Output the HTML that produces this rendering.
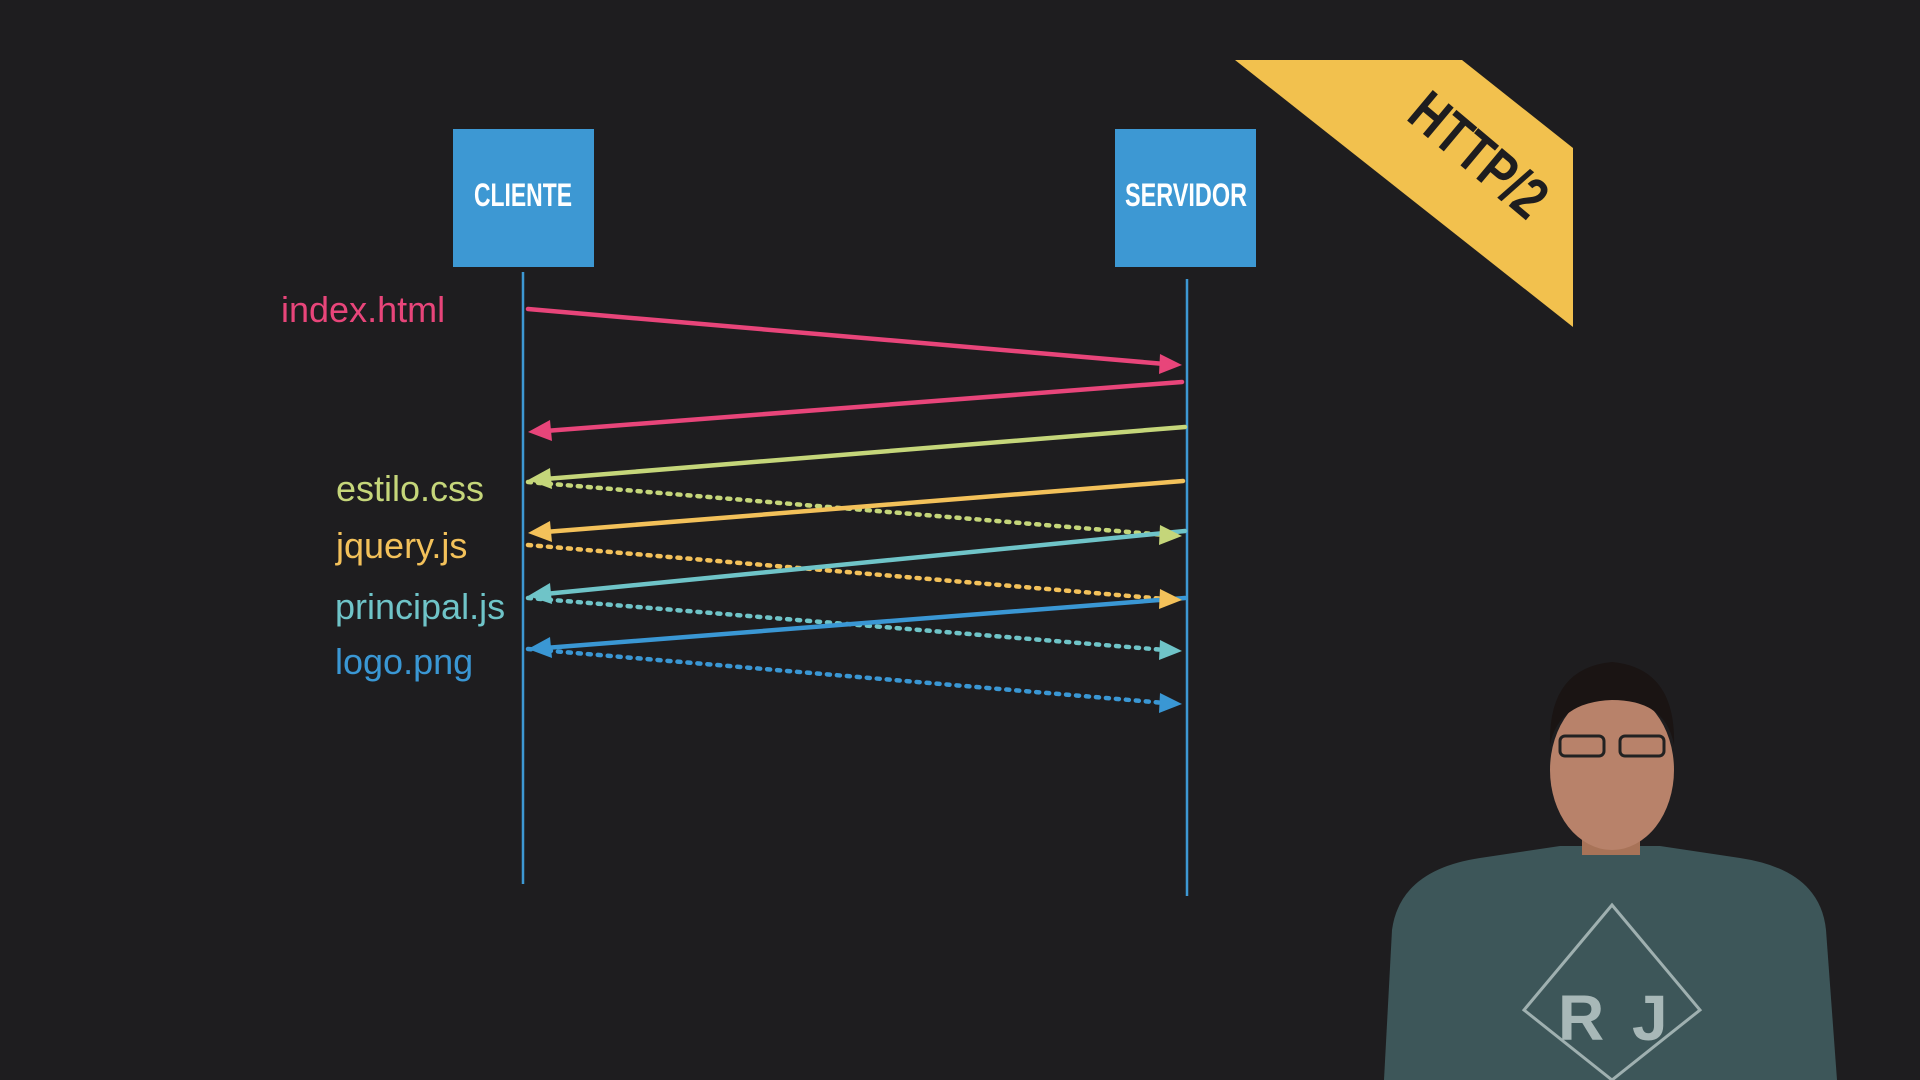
<!DOCTYPE html>
<html><head><meta charset="utf-8"><style>
html,body{margin:0;padding:0;background:#1e1d1f;width:1920px;height:1080px;overflow:hidden}
svg{display:block}
</style></head><body>
<svg width="1920" height="1080" viewBox="0 0 1920 1080" xmlns="http://www.w3.org/2000/svg">
<rect width="1920" height="1080" fill="#1e1d1f"/>
<!-- banner -->
<polygon points="1235,60 1462,60 1573,148 1573,327" fill="#f2c14e"/>
<text x="0" y="0" transform="translate(1466,170) rotate(40)" font-family="Liberation Sans, sans-serif" font-weight="bold" font-size="58" fill="#1e1d1f" text-anchor="middle" textLength="160" lengthAdjust="spacingAndGlyphs">HTTP/2</text>
<!-- boxes -->
<rect x="453" y="129" width="141" height="138" fill="#3d98d3"/>
<rect x="1115" y="129" width="141" height="138" fill="#3d98d3"/>
<text x="523" y="206" font-family="Liberation Sans, sans-serif" font-weight="bold" font-size="32" fill="#fff" text-anchor="middle" textLength="98" lengthAdjust="spacingAndGlyphs">CLIENTE</text>
<text x="1186" y="206" font-family="Liberation Sans, sans-serif" font-weight="bold" font-size="32" fill="#fff" text-anchor="middle" textLength="122" lengthAdjust="spacingAndGlyphs">SERVIDOR</text>
<!-- lifelines -->
<line x1="523" y1="272" x2="523" y2="884" stroke="#3d98d3" stroke-width="2.5"/>
<line x1="1187" y1="279" x2="1187" y2="896" stroke="#3d98d3" stroke-width="2.5"/>
<!-- labels -->
<g font-family="Liberation Sans, sans-serif" font-size="36">
<text x="281" y="322" fill="#e8457a">index.html</text>
<text x="336" y="501" fill="#c5d67a">estilo.css</text>
<text x="336" y="558" fill="#f3c15a">jquery.js</text>
<text x="335" y="619" fill="#6fc4c8">principal.js</text>
<text x="335" y="674" fill="#3a97d4">logo.png</text>
</g>
<!-- arrows -->
<g stroke-width="4.5" fill="none" stroke-linecap="round">
<line x1="528" y1="309" x2="1165" y2="364" stroke="#e8457a"/>
<line x1="1182" y1="382" x2="545" y2="431" stroke="#e8457a"/>
<line x1="1185" y1="427" x2="545" y2="479" stroke="#c5d67a"/>
<line x1="528" y1="482" x2="1165" y2="535" stroke="#c5d67a" stroke-dasharray="3 7"/>
<line x1="1183" y1="481" x2="545" y2="532" stroke="#f3c15a"/>
<line x1="528" y1="545" x2="1165" y2="599" stroke="#f3c15a" stroke-dasharray="3 7"/>
<line x1="1185" y1="531" x2="545" y2="594" stroke="#6fc4c8"/>
<line x1="528" y1="598" x2="1165" y2="650" stroke="#6fc4c8" stroke-dasharray="3 7"/>
<line x1="1185" y1="598" x2="545" y2="648" stroke="#3a97d4"/>
<line x1="528" y1="649" x2="1165" y2="703" stroke="#3a97d4" stroke-dasharray="3 7"/>
</g>
<g>
<polygon points="1182,365 1160,354 1159,374" fill="#e8457a"/>
<polygon points="528,432 550,420 552,441" fill="#e8457a"/>
<polygon points="528,480 550,468 552,489" fill="#c5d67a"/>
<polygon points="1182,536 1160,525 1159,545" fill="#c5d67a"/>
<polygon points="528,533 550,521 552,542" fill="#f3c15a"/>
<polygon points="1182,600 1160,589 1159,609" fill="#f3c15a"/>
<polygon points="528,596 550,583 552,604" fill="#6fc4c8"/>
<polygon points="1182,651 1160,640 1159,660" fill="#6fc4c8"/>
<polygon points="528,649 550,637 552,658" fill="#3a97d4"/>
<polygon points="1182,704 1160,693 1159,713" fill="#3a97d4"/>
</g>
<!-- person -->
<path d="M1384,1080 L1392,930 Q1400,870 1480,858 L1560,846 L1660,846 L1740,858 Q1820,870 1826,930 L1837,1080 Z" fill="#3d5659"/>
<rect x="1582" y="815" width="58" height="40" fill="#a87358"/>
<ellipse cx="1612" cy="770" rx="62" ry="80" fill="#b8826a"/>
<path d="M1550,745 Q1548,668 1612,662 Q1676,668 1674,745 Q1666,700 1612,700 Q1558,702 1550,745Z" fill="#1a1413"/>
<rect x="1560" y="736" width="44" height="20" rx="5" fill="none" stroke="#222" stroke-width="3"/>
<rect x="1620" y="736" width="44" height="20" rx="5" fill="none" stroke="#222" stroke-width="3"/>
<polygon points="1612,905 1700,1010 1612,1080 1524,1010" fill="none" stroke="#9fb0b0" stroke-width="3"/>
<text x="1558" y="1040" font-family="Liberation Sans, sans-serif" font-size="64" font-weight="bold" fill="#a8b8b8">R</text>
<text x="1632" y="1040" font-family="Liberation Sans, sans-serif" font-size="64" font-weight="bold" fill="#a8b8b8">J</text>
</svg>
</body></html>
